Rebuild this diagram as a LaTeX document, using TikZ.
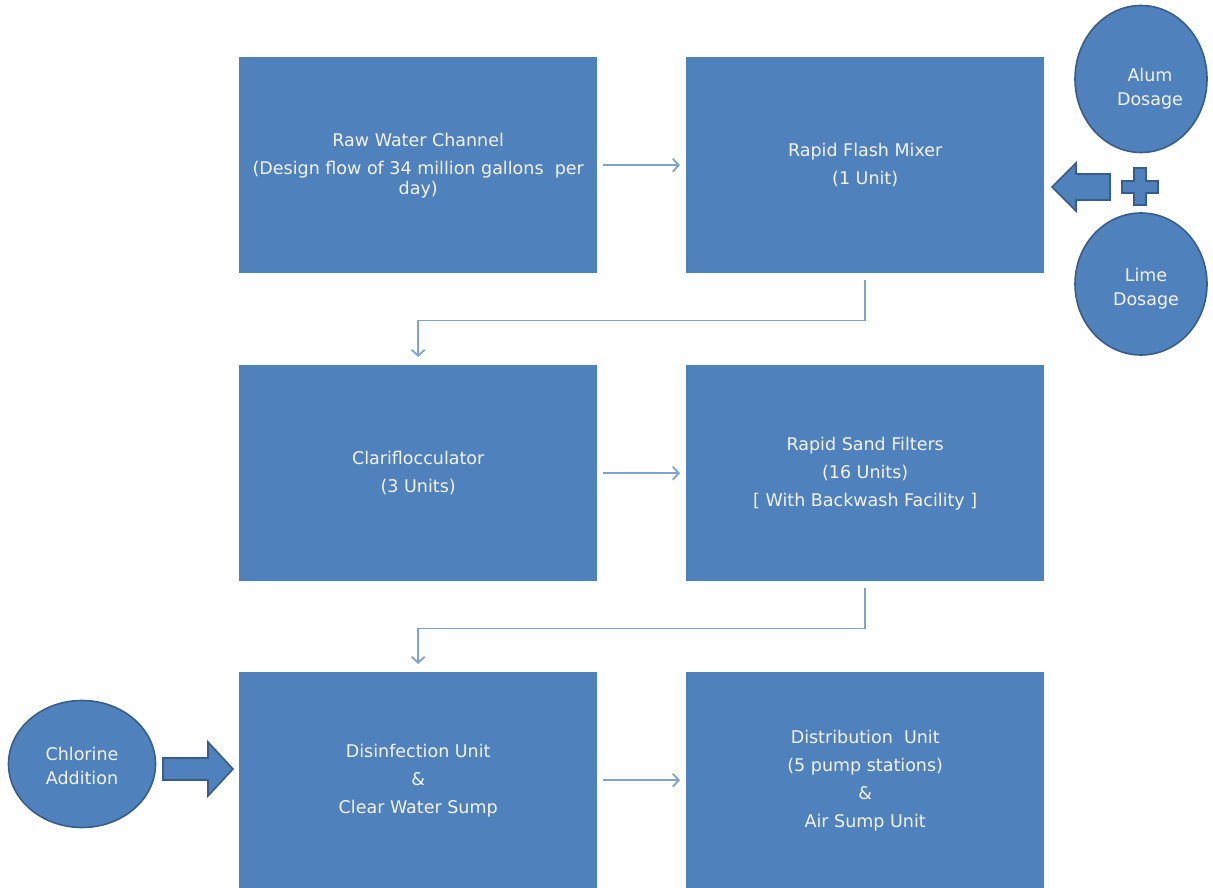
\documentclass[tikz,border=0pt]{standalone}
\usepackage{fontspec}
\setmainfont{DejaVu Sans}
\usetikzlibrary{shapes.geometric,arrows.meta}
\definecolor{boxblue}{HTML}{4F81BD}
\definecolor{edgeblue}{HTML}{385D8A}
\definecolor{linkblue}{HTML}{7FA2D0}
\definecolor{txt}{HTML}{F4F4F4}
\begin{document}
\begin{tikzpicture}[x=1pt,y=-1pt,
  stepbox/.style={draw=none, fill=boxblue, minimum width=358pt, minimum height=216pt,
    inner sep=0pt, anchor=north west, text=txt, align=center,
    font=\fontsize{17.5}{28}\selectfont},
  dose/.style={ellipse, draw=edgeblue, line width=1.6pt, fill=boxblue, inner sep=0pt,
    text=txt, align=center, font=\fontsize{17.5}{24}\selectfont},
  link/.style={draw=linkblue, line width=1.8pt, -{Straight Barb[length=6pt,width=13pt]}},
  blockarrow/.style={draw=edgeblue, line width=1.6pt, fill=boxblue, line join=miter}]
\useasboundingbox (0,0) rectangle (1213,888);

% process boxes
\node[stepbox] (raw) at (239,57) {Raw Water Channel\\(Design flow of 34 million gallons~~per\\[-8pt]day)};
\node[stepbox] (flash) at (686,57) {Rapid Flash Mixer\\(1 Unit)};
\node[stepbox] (clari) at (239,365) {Clariflocculator\\(3 Units)};
\node[stepbox] (sand) at (686,365) {Rapid Sand Filters\\(16 Units)\\{[} With Backwash Facility {]}};
\node[stepbox] (disinf) at (239,672) {Disinfection Unit\\\&\\Clear Water Sump};
\node[stepbox] (distr) at (686,672) {Distribution~~Unit\\(5 pump stations)\\\&\\Air Sump Unit};

% dosage circles
\node[dose, minimum width=132pt, minimum height=147pt] (alum) at (1141,79) {\hspace*{18pt}Alum\\\hspace*{18pt}Dosage\\[-40pt]};
\node[dose, minimum width=132pt, minimum height=142pt] (lime) at (1141,284) {\hspace*{10pt}Lime\\\hspace*{10pt}Dosage\\[-30pt]};
\node[dose, minimum width=147pt, minimum height=127pt] (chlor) at (82,764) {Chlorine\\Addition\\[-28pt]};

% block arrows and plus
\draw[blockarrow] (1052,187) -- (1076,163) -- (1076,174) -- (1110,174) -- (1110,200)
  -- (1076,200) -- (1076,211) -- cycle;
\draw[blockarrow] (1134,168) -- (1146,168) -- (1146,181) -- (1158,181) -- (1158,193)
  -- (1146,193) -- (1146,205) -- (1134,205) -- (1134,193) -- (1122,193) -- (1122,181)
  -- (1134,181) -- cycle;
\draw[blockarrow] (163,758) -- (208,758) -- (208,742) -- (233,769) -- (208,796)
  -- (208,780) -- (163,780) -- cycle;

% flow connectors
\draw[link] ([xshift=6pt]raw.east) -- ([xshift=-6pt]flash.west);
\draw[link] ([xshift=6pt]clari.east) -- ([xshift=-6pt]sand.west);
\draw[link] ([xshift=6pt]disinf.east) -- ([xshift=-6pt]distr.west);
\draw[link] ([yshift=-7pt]flash.south) -- ++(0,40) -| ([yshift=8pt]clari.north);
\draw[link] ([yshift=-7pt]sand.south) -- ++(0,40) -| ([yshift=8pt]disinf.north);
\end{tikzpicture}
\end{document}
